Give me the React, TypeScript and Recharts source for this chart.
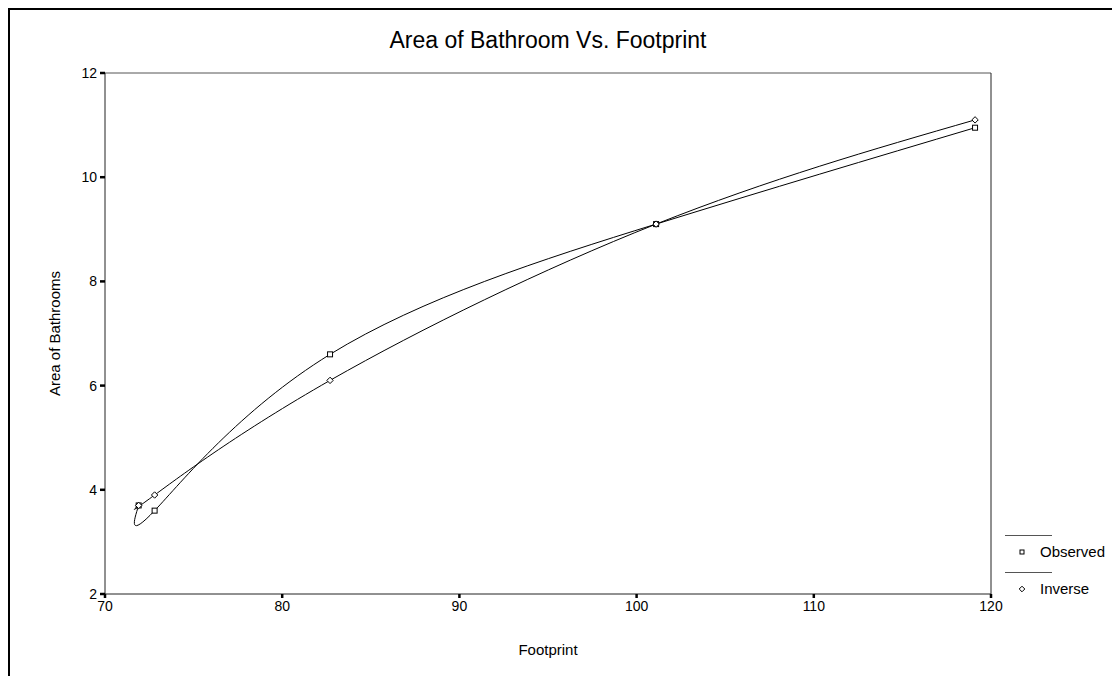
import React from 'react';
import { LineChart, Line, XAxis, YAxis, ReferenceLine, Legend } from 'recharts';

const footprint = [71.9, 72.8, 82.7, 101.1, 119.1];
const observed = [3.7, 3.6, 6.6, 9.1, 10.95];
const inverse = [3.7, 3.9, 6.1, 9.1, 11.1];
const xTicks = [70, 80, 90, 100, 110, 120];
const yTicks = [2, 4, 6, 8, 10, 12];
const seriesNames = { observed: 'Observed', inverse: 'Inverse' };
const legendOrder = ['observed', 'inverse'];

const data = footprint.map((x, i) => ({ x, observed: observed[i], inverse: inverse[i] }));

const FONT = '"Liberation Sans", Arial, sans-serif';

const SquareDot = (props: any) => {
  const { cx, cy, index } = props;
  if (cx == null || cy == null) return <g key={index} />;
  return <rect key={index} x={cx - 2.5} y={cy - 2.5} width={5} height={5} fill="#fff" stroke="#000" strokeWidth={1} />;
};

const DiamondDot = (props: any) => {
  const { cx, cy, index } = props;
  if (cx == null || cy == null) return <g key={index} />;
  return (
    <polygon
      key={index}
      points={`${cx},${cy - 3.2} ${cx + 3.2},${cy} ${cx},${cy + 3.2} ${cx - 3.2},${cy}`}
      fill="#fff"
      stroke="#000"
      strokeWidth={1}
    />
  );
};

const LegendContent = (props: any) => {
  const payload = [...(props.payload || [])].sort(
    (a: any, b: any) => legendOrder.indexOf(a.dataKey) - legendOrder.indexOf(b.dataKey)
  );
  return (
    <svg width={115} height={80} style={{ overflow: 'visible' }}>
      {payload.map((entry: any, i: number) => {
        const base = i * 37;
        const mx = 17;
        const my = base + 17;
        return (
          <g key={entry.value}>
            <line x1={0} x2={47} y1={base + 0.5} y2={base + 0.5} stroke="#555" strokeWidth={1} />
            {entry.dataKey === 'observed' ? (
              <rect x={mx - 2} y={my - 2} width={4} height={4} fill="#fff" stroke="#000" strokeWidth={1} />
            ) : (
              <polygon
                points={`${mx},${my - 2.8} ${mx + 2.8},${my} ${mx},${my + 2.8} ${mx - 2.8},${my}`}
                fill="#fff"
                stroke="#000"
                strokeWidth={1}
              />
            )}
            <text x={35} y={my + 5} fontFamily={FONT} fontSize={15} fill="#000">
              {entry.value}
            </text>
          </g>
        );
      })}
    </svg>
  );
};

export default function App() {
  return (
    <div
      style={{
        position: 'relative',
        width: 1110,
        height: 666,
        borderTop: '2px solid #000',
        borderLeft: '2px solid #000',
        background: '#fff',
        fontFamily: FONT,
      }}
    >
      <div
        style={{
          position: 'absolute',
          top: 18,
          left: 0,
          width: 1076,
          textAlign: 'center',
          fontSize: 23,
          lineHeight: '24px',
          color: '#000',
        }}
      >
        Area of Bathroom Vs. Footprint
      </div>
      <LineChart
        width={1110}
        height={666}
        data={data}
        margin={{ top: 63, right: 129, bottom: 52, left: 55 }}
      >
        <XAxis
          dataKey="x"
          type="number"
          domain={[70, 120]}
          ticks={xTicks}
          interval={0}
          allowDataOverflow
          height={30}
          stroke="#222"
          tickSize={4}
          tickMargin={3}
          tickLine={{ stroke: '#000', strokeWidth: 2.5 }}
          tick={{ fill: '#000', fontSize: 14, fontFamily: FONT }}
          label={{ value: 'Footprint', position: 'bottom', offset: 20, fill: '#000', fontSize: 15, fontFamily: FONT }}
        />
        <YAxis
          type="number"
          domain={[2, 12]}
          ticks={yTicks}
          interval={0}
          allowDataOverflow
          width={40}
          stroke="#222"
          tickSize={5}
          tickMargin={3}
          tickLine={{ stroke: '#000', strokeWidth: 2.5 }}
          tick={{ fill: '#000', fontSize: 14, fontFamily: FONT }}
          label={{
            value: 'Area of Bathrooms',
            angle: -90,
            position: 'insideLeft',
            offset: -10,
            fill: '#000',
            fontSize: 15,
            fontFamily: FONT,
            style: { textAnchor: 'middle' },
          }}
        />
        <ReferenceLine y={12} stroke="#555" strokeWidth={1} />
        <ReferenceLine x={120} stroke="#222" strokeWidth={1} />
        <Legend
          layout="vertical"
          align="center"
          verticalAlign="middle"
          content={<LegendContent />}
          wrapperStyle={{ position: 'absolute', left: 995, top: 525, width: 115, height: 80 }}
        />
        <Line
          type="natural"
          dataKey="observed"
          name={seriesNames.observed}
          stroke="#000"
          strokeWidth={1}
          dot={SquareDot}
          activeDot={false}
          isAnimationActive={false}
        />
        <Line
          type="natural"
          dataKey="inverse"
          name={seriesNames.inverse}
          stroke="#000"
          strokeWidth={1}
          dot={DiamondDot}
          activeDot={false}
          isAnimationActive={false}
        />
      </LineChart>
    </div>
  );
}
